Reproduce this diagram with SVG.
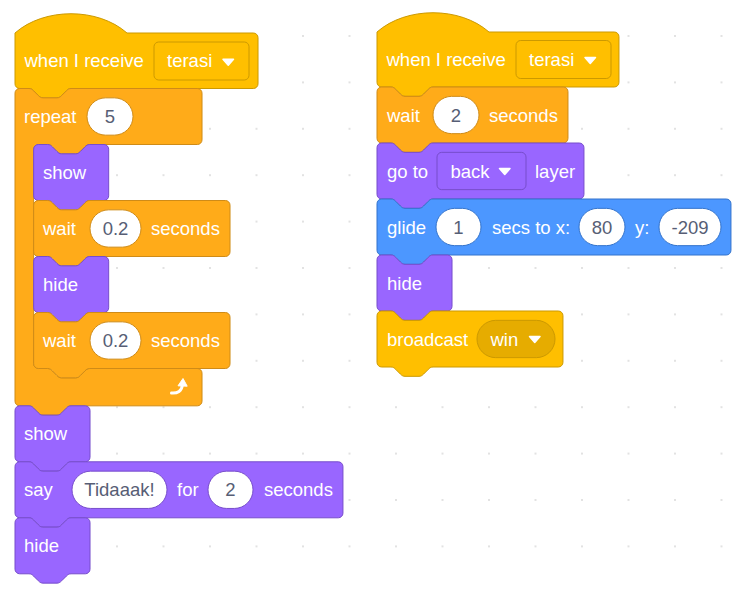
<svg xmlns="http://www.w3.org/2000/svg" width="747" height="589" viewBox="0 0 747 589">
<defs>
<style>
.t{font-family:"Liberation Sans",Arial,sans-serif;font-size:18.5px;fill:#fff}
.v{font-family:"Liberation Sans",Arial,sans-serif;font-size:18.5px;fill:#575E75;text-anchor:middle}
.ev{fill:#FFBF00;stroke:#CC9900}
.ev2{fill:#E6AC00;stroke:#CC9900}
.ct{fill:#FFAB19;stroke:#CF8B17}
.lk{fill:#9966FF;stroke:#774DCB}
.mo{fill:#4C97FF;stroke:#3373CC}
.blk{stroke-width:1;vector-effect:non-scaling-stroke}
.inc{fill:#fff;stroke:#CF8B17;stroke-width:1}
.inl{fill:#fff;stroke:#774DCB;stroke-width:1}
.inm{fill:#fff;stroke:#3373CC;stroke-width:1}
.arr{fill:#fff;stroke:#fff;stroke-width:1.5;stroke-linejoin:round}
</style>
<pattern id="grid" x="116" y="35" width="46.5" height="46.4" patternUnits="userSpaceOnUse"><circle cx="1" cy="1" r="1" fill="#d9d9d9"/></pattern>
</defs>
<rect width="747" height="589" fill="#fff"/>
<rect width="747" height="589" fill="url(#grid)"/>
<g id="connectors"/>

<!-- LEFT STACK -->
<g id="hat1">
<path class="blk ev" transform="translate(15,33) scale(1.16667)" d="M0,0 C25,-22 71,-22 96,0 H204.3 A4,4 0 0 1 208.3,4 V43.57 A4,4 0 0 1 204.3,47.57 H48 c-2,0 -3,1 -4,2 l-4,4 c-1,1 -2,2 -4,2 h-12 c-2,0 -3,-1 -4,-2 l-4,-4 c-1,-1 -2,-2 -4,-2 H4 A4,4 0 0 1 0,43.57 Z"/>
<text class="t" x="24.5" y="67">when I receive</text>
<rect x="154" y="42" width="95" height="38" rx="4.7" class="ev"/>
<text class="t" x="167" y="67">terasi</text>
<path class="arr" d="M223,59.2 h10.5 l-5.25,6 z"/>
</g>

<g id="repeat">
<path class="blk ct" transform="translate(15,88.5) scale(1.16667)" d="M0,4 A4,4 0 0 1 4,0 H12 c2,0 3,1 4,2 l4,4 c1,1 2,2 4,2 h12 c2,0 3,-1 4,-2 l4,-4 c1,-1 2,-2 4,-2 H156.3 A4,4 0 0 1 160.3,4 V44 A4,4 0 0 1 156.3,48 H64 c-2,0 -3,1 -4,2 l-4,4 c-1,1 -2,2 -4,2 h-12 c-2,0 -3,-1 -4,-2 l-4,-4 c-1,-1 -2,-2 -4,-2 H20 A4,4 0 0 0 16,52 V236 A4,4 0 0 0 20,240 H28 c2,0 3,1 4,2 l4,4 c1,1 2,2 4,2 h12 c2,0 3,-1 4,-2 l4,-4 c1,-1 2,-2 4,-2 H156.3 A4,4 0 0 1 160.3,244 V268 A4,4 0 0 1 156.3,272 H48 c-2,0 -3,1 -4,2 l-4,4 c-1,1 -2,2 -4,2 h-12 c-2,0 -3,-1 -4,-2 l-4,-4 c-1,-1 -2,-2 -4,-2 H4 A4,4 0 0 1 0,268 Z"/>
<text class="t" x="24" y="123">repeat</text>
<rect class="inc" x="87" y="97.85" width="46" height="37.3" rx="18.65"/>
<text class="v" x="110" y="123">5</text>
<path d="M171.5,393 C177.5,393.5 182,391 182.3,385" fill="none" stroke="#fff" stroke-width="3" stroke-linecap="round"/>
<path d="M178,385.8 L183,378.5 L187.2,386.2 Z" fill="#fff" stroke="#fff" stroke-width="1" stroke-linejoin="round"/>
</g>

<g id="show1">
<path class="blk lk" transform="translate(33.67,144.5) scale(1.16667)" d="M0,4 A4,4 0 0 1 4,0 H12 c2,0 3,1 4,2 l4,4 c1,1 2,2 4,2 h12 c2,0 3,-1 4,-2 l4,-4 c1,-1 2,-2 4,-2 H60.3 A4,4 0 0 1 64.3,4 V44 A4,4 0 0 1 60.3,48 H48 c-2,0 -3,1 -4,2 l-4,4 c-1,1 -2,2 -4,2 h-12 c-2,0 -3,-1 -4,-2 l-4,-4 c-1,-1 -2,-2 -4,-2 H4 A4,4 0 0 1 0,44 Z"/>
<text class="t" x="43" y="179">show</text>
</g>

<g id="wait1">
<path class="blk ct" transform="translate(33.67,200.5) scale(1.16667)" d="M0,4 A4,4 0 0 1 4,0 H12 c2,0 3,1 4,2 l4,4 c1,1 2,2 4,2 h12 c2,0 3,-1 4,-2 l4,-4 c1,-1 2,-2 4,-2 H164.3 A4,4 0 0 1 168.3,4 V44 A4,4 0 0 1 164.3,48 H48 c-2,0 -3,1 -4,2 l-4,4 c-1,1 -2,2 -4,2 h-12 c-2,0 -3,-1 -4,-2 l-4,-4 c-1,-1 -2,-2 -4,-2 H4 A4,4 0 0 1 0,44 Z"/>
<text class="t" x="43" y="235">wait</text>
<rect class="inc" x="90" y="209.85" width="51" height="37.3" rx="18.65"/>
<text class="v" x="115.5" y="235">0.2</text>
<text class="t" x="151" y="235">seconds</text>
</g>

<g id="hide1">
<path class="blk lk" transform="translate(33.67,256.5) scale(1.16667)" d="M0,4 A4,4 0 0 1 4,0 H12 c2,0 3,1 4,2 l4,4 c1,1 2,2 4,2 h12 c2,0 3,-1 4,-2 l4,-4 c1,-1 2,-2 4,-2 H60.3 A4,4 0 0 1 64.3,4 V44 A4,4 0 0 1 60.3,48 H48 c-2,0 -3,1 -4,2 l-4,4 c-1,1 -2,2 -4,2 h-12 c-2,0 -3,-1 -4,-2 l-4,-4 c-1,-1 -2,-2 -4,-2 H4 A4,4 0 0 1 0,44 Z"/>
<text class="t" x="43" y="291">hide</text>
</g>

<g id="wait2">
<path class="blk ct" transform="translate(33.67,312.5) scale(1.16667)" d="M0,4 A4,4 0 0 1 4,0 H12 c2,0 3,1 4,2 l4,4 c1,1 2,2 4,2 h12 c2,0 3,-1 4,-2 l4,-4 c1,-1 2,-2 4,-2 H164.3 A4,4 0 0 1 168.3,4 V44 A4,4 0 0 1 164.3,48 H48 c-2,0 -3,1 -4,2 l-4,4 c-1,1 -2,2 -4,2 h-12 c-2,0 -3,-1 -4,-2 l-4,-4 c-1,-1 -2,-2 -4,-2 H4 A4,4 0 0 1 0,44 Z"/>
<text class="t" x="43" y="347">wait</text>
<rect class="inc" x="90" y="321.85" width="51" height="37.3" rx="18.65"/>
<text class="v" x="115.5" y="347">0.2</text>
<text class="t" x="151" y="347">seconds</text>
</g>

<g id="show2">
<path class="blk lk" transform="translate(15,405.8) scale(1.16667)" d="M0,4 A4,4 0 0 1 4,0 H12 c2,0 3,1 4,2 l4,4 c1,1 2,2 4,2 h12 c2,0 3,-1 4,-2 l4,-4 c1,-1 2,-2 4,-2 H60.3 A4,4 0 0 1 64.3,4 V44 A4,4 0 0 1 60.3,48 H48 c-2,0 -3,1 -4,2 l-4,4 c-1,1 -2,2 -4,2 h-12 c-2,0 -3,-1 -4,-2 l-4,-4 c-1,-1 -2,-2 -4,-2 H4 A4,4 0 0 1 0,44 Z"/>
<text class="t" x="24" y="440.3">show</text>
</g>

<g id="say">
<path class="blk lk" transform="translate(15,461.8) scale(1.16667)" d="M0,4 A4,4 0 0 1 4,0 H12 c2,0 3,1 4,2 l4,4 c1,1 2,2 4,2 h12 c2,0 3,-1 4,-2 l4,-4 c1,-1 2,-2 4,-2 H277.1 A4,4 0 0 1 281.1,4 V44 A4,4 0 0 1 277.1,48 H48 c-2,0 -3,1 -4,2 l-4,4 c-1,1 -2,2 -4,2 h-12 c-2,0 -3,-1 -4,-2 l-4,-4 c-1,-1 -2,-2 -4,-2 H4 A4,4 0 0 1 0,44 Z"/>
<text class="t" x="24" y="496.3">say</text>
<rect class="inl" x="72" y="471.15" width="95" height="37.3" rx="18.65"/>
<text class="v" x="119.5" y="496.3">Tidaaak!</text>
<text class="t" x="177" y="496.3">for</text>
<rect class="inl" x="208" y="471.15" width="45" height="37.3" rx="18.65"/>
<text class="v" x="230.5" y="496.3">2</text>
<text class="t" x="264" y="496.3">seconds</text>
</g>

<g id="hide2">
<path class="blk lk" transform="translate(15,517.8) scale(1.16667)" d="M0,4 A4,4 0 0 1 4,0 H12 c2,0 3,1 4,2 l4,4 c1,1 2,2 4,2 h12 c2,0 3,-1 4,-2 l4,-4 c1,-1 2,-2 4,-2 H60.3 A4,4 0 0 1 64.3,4 V44 A4,4 0 0 1 60.3,48 H48 c-2,0 -3,1 -4,2 l-4,4 c-1,1 -2,2 -4,2 h-12 c-2,0 -3,-1 -4,-2 l-4,-4 c-1,-1 -2,-2 -4,-2 H4 A4,4 0 0 1 0,44 Z"/>
<text class="t" x="24" y="552.3">hide</text>
</g>

<!-- RIGHT STACK -->
<g id="hat2">
<path class="blk ev" transform="translate(377,32) scale(1.16667)" d="M0,0 C25,-22 71,-22 96,0 H203.4 A4,4 0 0 1 207.4,4 V43.14 A4,4 0 0 1 203.4,47.14 H48 c-2,0 -3,1 -4,2 l-4,4 c-1,1 -2,2 -4,2 h-12 c-2,0 -3,-1 -4,-2 l-4,-4 c-1,-1 -2,-2 -4,-2 H4 A4,4 0 0 1 0,43.14 Z"/>
<text class="t" x="386.5" y="66">when I receive</text>
<rect x="516" y="40.5" width="95" height="38" rx="4.7" class="ev"/>
<text class="t" x="529" y="66">terasi</text>
<path class="arr" d="M585,57.5 h10.5 l-5.25,6 z"/>
</g>

<g id="wait3">
<path class="blk ct" transform="translate(377,87) scale(1.16667)" d="M0,4 A4,4 0 0 1 4,0 H12 c2,0 3,1 4,2 l4,4 c1,1 2,2 4,2 h12 c2,0 3,-1 4,-2 l4,-4 c1,-1 2,-2 4,-2 H159.7 A4,4 0 0 1 163.7,4 V44 A4,4 0 0 1 159.7,48 H48 c-2,0 -3,1 -4,2 l-4,4 c-1,1 -2,2 -4,2 h-12 c-2,0 -3,-1 -4,-2 l-4,-4 c-1,-1 -2,-2 -4,-2 H4 A4,4 0 0 1 0,44 Z"/>
<text class="t" x="387" y="121.5">wait</text>
<rect class="inc" x="433" y="96.35" width="46" height="37.3" rx="18.65"/>
<text class="v" x="456" y="121.5">2</text>
<text class="t" x="489" y="121.5">seconds</text>
</g>

<g id="goto">
<path class="blk lk" transform="translate(377,143) scale(1.16667)" d="M0,4 A4,4 0 0 1 4,0 H12 c2,0 3,1 4,2 l4,4 c1,1 2,2 4,2 h12 c2,0 3,-1 4,-2 l4,-4 c1,-1 2,-2 4,-2 H173.4 A4,4 0 0 1 177.4,4 V44 A4,4 0 0 1 173.4,48 H48 c-2,0 -3,1 -4,2 l-4,4 c-1,1 -2,2 -4,2 h-12 c-2,0 -3,-1 -4,-2 l-4,-4 c-1,-1 -2,-2 -4,-2 H4 A4,4 0 0 1 0,44 Z"/>
<text class="t" x="387" y="177.5">go to</text>
<rect x="437" y="152.35" width="89" height="37.3" rx="4.7" class="lk"/>
<text class="t" x="450.5" y="177.5">back</text>
<path class="arr" d="M499.5,168.5 h10.5 l-5.25,6 z"/>
<text class="t" x="535" y="177.5">layer</text>
</g>

<g id="glide">
<path class="blk mo" transform="translate(377,199) scale(1.16667)" d="M0,4 A4,4 0 0 1 4,0 H12 c2,0 3,1 4,2 l4,4 c1,1 2,2 4,2 h12 c2,0 3,-1 4,-2 l4,-4 c1,-1 2,-2 4,-2 H299.4 A4,4 0 0 1 303.4,4 V44 A4,4 0 0 1 299.4,48 H48 c-2,0 -3,1 -4,2 l-4,4 c-1,1 -2,2 -4,2 h-12 c-2,0 -3,-1 -4,-2 l-4,-4 c-1,-1 -2,-2 -4,-2 H4 A4,4 0 0 1 0,44 Z"/>
<text class="t" x="387" y="233.5">glide</text>
<rect class="inm" x="436" y="208.35" width="45" height="37.3" rx="18.65"/>
<text class="v" x="458.5" y="233.5">1</text>
<text class="t" x="492" y="233.5">secs to x:</text>
<rect class="inm" x="579" y="208.35" width="46" height="37.3" rx="18.65"/>
<text class="v" x="602" y="233.5">80</text>
<text class="t" x="635" y="233.5">y:</text>
<rect class="inm" x="659" y="208.35" width="62" height="37.3" rx="18.65"/>
<text class="v" x="690" y="233.5">-209</text>
</g>

<g id="hide3">
<path class="blk lk" transform="translate(377,255) scale(1.16667)" d="M0,4 A4,4 0 0 1 4,0 H12 c2,0 3,1 4,2 l4,4 c1,1 2,2 4,2 h12 c2,0 3,-1 4,-2 l4,-4 c1,-1 2,-2 4,-2 H60.3 A4,4 0 0 1 64.3,4 V44 A4,4 0 0 1 60.3,48 H48 c-2,0 -3,1 -4,2 l-4,4 c-1,1 -2,2 -4,2 h-12 c-2,0 -3,-1 -4,-2 l-4,-4 c-1,-1 -2,-2 -4,-2 H4 A4,4 0 0 1 0,44 Z"/>
<text class="t" x="387" y="289.5">hide</text>
</g>

<g id="broadcast">
<path class="blk ev" transform="translate(377,311) scale(1.16667)" d="M0,4 A4,4 0 0 1 4,0 H12 c2,0 3,1 4,2 l4,4 c1,1 2,2 4,2 h12 c2,0 3,-1 4,-2 l4,-4 c1,-1 2,-2 4,-2 H155.4 A4,4 0 0 1 159.4,4 V44 A4,4 0 0 1 155.4,48 H48 c-2,0 -3,1 -4,2 l-4,4 c-1,1 -2,2 -4,2 h-12 c-2,0 -3,-1 -4,-2 l-4,-4 c-1,-1 -2,-2 -4,-2 H4 A4,4 0 0 1 0,44 Z"/>
<text class="t" x="387" y="345.5">broadcast</text>
<rect x="477" y="320.35" width="78" height="37.3" rx="18.65" class="ev2"/>
<text class="t" x="490.5" y="345.5">win</text>
<path class="arr" d="M529.5,336.5 h10.5 l-5.25,6 z"/>
</g>
</svg>
